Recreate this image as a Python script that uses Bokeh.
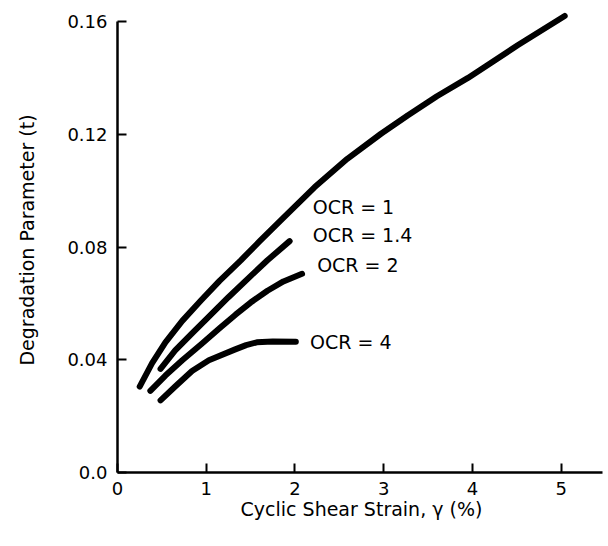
from bokeh.plotting import figure
from bokeh.models import Range1d, ColumnDataSource, FixedTicker
from bokeh.core.properties import value
from bokeh.embed import file_html
from bokeh.resources import INLINE

# Data
ocr1_x = [0.25, 0.39, 0.54, 0.73, 0.94, 1.15, 1.39, 1.6, 1.84, 2.22, 2.59, 2.97, 3.27, 3.6, 3.95, 4.51, 5.04]
ocr1_y = [0.0305, 0.0388, 0.0462, 0.0538, 0.061, 0.068, 0.0753, 0.082, 0.0895, 0.1012, 0.1113, 0.1202, 0.1267, 0.1335, 0.140, 0.1516, 0.162]

ocr14_x = [0.485, 0.65, 0.84, 1.03, 1.25, 1.5, 1.69, 1.94]
ocr14_y = [0.0368, 0.0433, 0.0494, 0.0553, 0.0622, 0.0697, 0.0753, 0.0821]

ocr2_x = [0.37, 0.54, 0.73, 0.95, 1.15, 1.33, 1.50, 1.69, 1.87, 2.08]
ocr2_y = [0.029, 0.0344, 0.0398, 0.0457, 0.0512, 0.0560, 0.0603, 0.0645, 0.0678, 0.0705]

ocr4_x = [0.485, 0.65, 0.84, 1.03, 1.32, 1.45, 1.57, 1.75, 2.01]
ocr4_y = [0.0256, 0.0305, 0.0360, 0.0398, 0.0436, 0.0452, 0.0462, 0.0465, 0.0464]

label_texts = ["OCR = 1", "OCR = 1.4", "OCR = 2", "OCR = 4"]
label_x = [2.20, 2.20, 2.25, 2.17]
label_y = [0.0941, 0.0841, 0.0735, 0.0463]

x_ticks = [0, 1, 2, 3, 4, 5]
y_ticks = [0.0, 0.04, 0.08, 0.12, 0.16]
y_tick_labels = {0.0: "0.0", 0.04: "0.04", 0.08: "0.08", 0.12: "0.12", 0.16: "0.16"}

FONT = "DejaVu Sans"

p = figure(width=608, height=546, output_backend="svg", toolbar_location=None,
           x_range=Range1d(0, 5.5), y_range=Range1d(0, 0.165),
           min_border_left=117, min_border_right=3, min_border_top=7, min_border_bottom=74)

p.outline_line_color = None
p.xgrid.grid_line_color = None
p.ygrid.grid_line_color = None
p.background_fill_color = "white"
p.border_fill_color = "white"

for xs, ys in [(ocr1_x, ocr1_y), (ocr14_x, ocr14_y), (ocr2_x, ocr2_y), (ocr4_x, ocr4_y)]:
    p.line(xs, ys, line_width=6, line_color="black", line_cap="round", line_join="round")

src = ColumnDataSource(dict(x=label_x, y=label_y, t=label_texts))
p.text(x="x", y="y", text="t", source=src, text_font=value(FONT), text_font_size="19px",
       text_align="left", text_baseline="middle", text_color="black")

# X axis
xa = p.xaxis[0]
xa.ticker = FixedTicker(ticks=x_ticks)
xa.bounds = (0, 5.47)
xa.axis_label = "Cyclic Shear Strain, γ (%)"
xa.axis_label_text_font = FONT
xa.axis_label_text_font_size = "19px"
xa.axis_label_text_font_style = "normal"
xa.axis_label_text_color = "black"
xa.axis_label_standoff = 0
xa.major_label_text_font = FONT
xa.major_label_text_font_size = "18px"
xa.major_label_text_color = "black"
xa.major_label_standoff = 9
xa.axis_line_width = 2.5
xa.axis_line_color = "black"
xa.major_tick_in = 9
xa.major_tick_out = 0
xa.major_tick_line_width = 2
xa.major_tick_line_color = "black"
xa.minor_tick_line_color = None

# Y axis
ya = p.yaxis[0]
ya.ticker = FixedTicker(ticks=y_ticks)
ya.major_label_overrides = y_tick_labels
ya.bounds = (0, 0.16)
ya.axis_label = "Degradation Parameter (t)"
ya.axis_label_text_font = FONT
ya.axis_label_text_font_size = "19px"
ya.axis_label_text_font_style = "normal"
ya.axis_label_text_color = "black"
ya.axis_label_standoff = 26
ya.major_label_text_font = FONT
ya.major_label_text_font_size = "18px"
ya.major_label_text_color = "black"
ya.major_label_standoff = 10
ya.axis_line_width = 2.5
ya.axis_line_color = "black"
ya.major_tick_in = 9
ya.major_tick_out = 0
ya.major_tick_line_width = 2
ya.major_tick_line_color = "black"
ya.minor_tick_line_color = None

open("out.html", "w").write(file_html(p, INLINE))
